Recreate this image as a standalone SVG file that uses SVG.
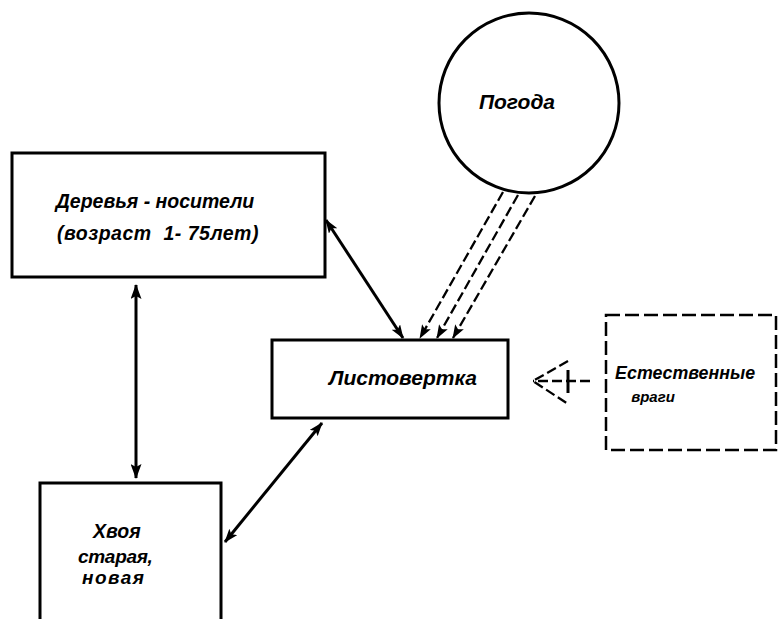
<svg xmlns="http://www.w3.org/2000/svg" width="779" height="619" viewBox="0 0 779 619">
<defs>
<marker id="ah" viewBox="0 0 14 10" refX="13" refY="5" markerWidth="14" markerHeight="10" markerUnits="userSpaceOnUse" orient="auto-start-reverse">
<path d="M0,0 L14,5 L0,10 L3,5 Z" fill="#000"/>
</marker>
<marker id="ahs" viewBox="0 0 15 11" refX="14" refY="5.5" markerWidth="15" markerHeight="11" markerUnits="userSpaceOnUse" orient="auto-start-reverse">
<path d="M0,0 L15,5.5 L0,11 L3,5.5 Z" fill="#000"/>
</marker>
</defs>
<style>
.box{fill:none;stroke:#000;stroke-width:3}
.dbox{fill:none;stroke:#000;stroke-width:2.5;stroke-dasharray:14 5}
.lbl{font-family:"Liberation Sans",Arial,sans-serif;font-style:italic;font-weight:bold;fill:#000}
.solid{fill:none;stroke:#000;stroke-width:3}
.dash{fill:none;stroke:#000;stroke-width:2.3;stroke-dasharray:10 4}
</style>
<rect width="779" height="619" fill="#fff"/>
<g id="pogoda">
<circle cx="529" cy="103" r="90" class="box"/>
<text x="517" y="109" class="lbl" font-size="21" text-anchor="middle">Погода</text>
</g>
<g id="derevya">
<rect x="12" y="153" width="313" height="124" class="box"/>
<text x="155" y="208" class="lbl" font-size="19.5" text-anchor="middle">Деревья - носители</text>
<text x="158" y="240" class="lbl" font-size="19.5" text-anchor="middle" xml:space="preserve" letter-spacing="0.5">(возраст  1- 75лет)</text>
</g>
<g id="listovertka">
<rect x="272" y="340" width="236" height="78" class="box" stroke-width="2.5"/>
<text x="403" y="385" class="lbl" font-size="21" text-anchor="middle">Листовертка</text>
</g>
<g id="vragi">
<rect x="606" y="315" width="170" height="135" class="dbox"/>
<text x="685" y="379" class="lbl" font-size="17.8" text-anchor="middle">Естественные</text>
<text x="653" y="402" class="lbl" font-size="15" text-anchor="middle">враги</text>
</g>
<g id="hvoya">
<rect x="40" y="483" width="181" height="150" class="box"/>
<text x="93" y="538" class="lbl" font-size="19.5">Хвоя</text>
<text x="78" y="563" class="lbl" font-size="19" letter-spacing="-0.3">старая,</text>
<text x="82" y="584" class="lbl" font-size="19" letter-spacing="1.5">новая</text>
</g>
<g id="connectors">
<line x1="136" y1="285" x2="136" y2="478" class="solid" marker-start="url(#ahs)" marker-end="url(#ahs)"/>
<line x1="326" y1="220" x2="403" y2="338" class="solid" stroke-width="2.5" marker-start="url(#ah)" marker-end="url(#ah)"/>
<line x1="322" y1="423" x2="225" y2="542" class="solid" stroke-width="2.5" marker-start="url(#ah)" marker-end="url(#ah)"/>
<line x1="503" y1="192" x2="420" y2="338" class="dash" marker-end="url(#ah)"/>
<line x1="518" y1="195" x2="437" y2="338" class="dash" marker-end="url(#ah)"/>
<line x1="535" y1="196" x2="453" y2="338" class="dash" marker-end="url(#ah)"/>
<line x1="590" y1="381" x2="533" y2="381" class="dash" stroke-width="2.5" stroke-dasharray="14 5"/>
<path d="M568,361 L533,381 L568,404" class="dash" stroke-width="2.5" stroke-dasharray="8 4"/>
<line x1="568" y1="370" x2="568" y2="393" class="solid" stroke-width="2.5"/>
</g>
</svg>
